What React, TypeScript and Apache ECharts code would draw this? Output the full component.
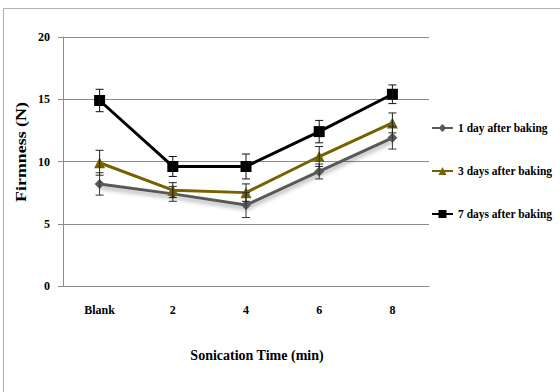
import React, { useEffect, useRef } from "react";
import * as echarts from "echarts";

const categories = ["Blank", "2", "4", "6", "8"];
const oneDay = [8.2, 7.4, 6.5, 9.2, 11.9];
const oneDayErr = [0.9, 0.6, 1.0, 0.6, 0.9];
const threeDays = [9.9, 7.7, 7.5, 10.4, 13.1];
const threeDaysErr = [1.0, 0.6, 0.7, 0.8, 0.8];
const sevenDays = [14.9, 9.6, 9.6, 12.4, 15.4];
const sevenDaysErr = [0.9, 0.8, 1.0, 0.9, 0.75];
const yTicks = [0, 5, 10, 15, 20];

const FONT = "'Liberation Serif', 'Times New Roman', serif";

function errData(vals: number[], errs: number[]) {
  return vals.map((v, i) => [i, v - errs[i], v + errs[i]]);
}

function errSeries(vals: number[], errs: number[], color: string) {
  return {
    type: "custom",
    z: 5,
    silent: true,
    data: errData(vals, errs),
    renderItem: (params: any, api: any) => {
      const x = api.value(0);
      const lo = api.coord([x, api.value(1)]);
      const hi = api.coord([x, api.value(2)]);
      const w = 4;
      const style = { stroke: color, lineWidth: 1 };
      return {
        type: "group",
        children: [
          { type: "line", shape: { x1: lo[0], y1: lo[1], x2: hi[0], y2: hi[1] }, style },
          { type: "line", shape: { x1: lo[0] - w, y1: lo[1], x2: lo[0] + w, y2: lo[1] }, style },
          { type: "line", shape: { x1: hi[0] - w, y1: hi[1], x2: hi[0] + w, y2: hi[1] }, style },
        ],
      };
    },
  };
}

export default function App() {
  const ref = useRef<HTMLDivElement>(null);
  useEffect(() => {
    if (!ref.current) return;
    const chart = echarts.init(ref.current, undefined, { renderer: "svg" });
    chart.setOption({
      animation: false,
      backgroundColor: "#ffffff",
      grid: { left: 63, right: 131, top: 37, bottom: 106 },
      legend: {
        orient: "vertical",
        left: 431,
        top: 122,
        itemGap: 31,
        itemWidth: 21,
        itemHeight: 10,
        padding: 0,
        data: ["1 day after baking", "3 days after baking", "7 days after baking"],
        textStyle: { fontFamily: FONT, fontWeight: "bold", fontSize: 11.5, color: "#000" },
      },
      xAxis: {
        type: "category",
        data: categories,
        boundaryGap: true,
        axisLine: { lineStyle: { color: "#8c8c8c", width: 1 } },
        axisTick: { alignWithLabel: true, length: 5, lineStyle: { color: "#8c8c8c" } },
        axisLabel: { margin: 18, fontFamily: FONT, fontWeight: "bold", fontSize: 12, color: "#000" },
        splitLine: { show: false },
      },
      yAxis: {
        type: "value",
        min: 0,
        max: 20,
        interval: 5,
        axisLine: { show: true, lineStyle: { color: "#8c8c8c", width: 1 } },
        axisTick: { show: true, length: 5, lineStyle: { color: "#8c8c8c" } },
        axisLabel: {
          margin: 13,
          fontFamily: FONT,
          fontWeight: "bold",
          fontSize: 12,
          color: "#000",
          formatter: (v: number) => (yTicks.includes(v) ? String(v) : ""),
        },
        splitLine: { show: true, lineStyle: { color: "#8c8c8c", width: 1 } },
      },
      graphic: [
        { type: "line", shape: { x1: 3.5, y1: 8.5, x2: 560, y2: 8.5 }, style: { stroke: "#b0b0b0", lineWidth: 1 } },
        { type: "line", shape: { x1: 3.5, y1: 8.5, x2: 3.5, y2: 392 }, style: { stroke: "#b0b0b0", lineWidth: 1 } },
        {
          type: "text",
          x: 21,
          y: 152,
          rotation: Math.PI / 2,
          scaleX: 1.28,
          style: {
            text: "Firmness (N)",
            fontFamily: FONT,
            fontWeight: "bold",
            fontSize: 14,
            fill: "#000",
            align: "center",
            verticalAlign: "middle",
          },
        },
        {
          type: "text",
          x: 257,
          y: 355,
          style: {
            text: "Sonication Time (min)",
            fontFamily: FONT,
            fontWeight: "bold",
            fontSize: 14,
            fill: "#000",
            align: "center",
            verticalAlign: "middle",
          },
        },
      ],
      series: [
        {
          name: "1 day after baking",
          type: "line",
          data: oneDay,
          symbol: "diamond",
          symbolSize: 10,
          itemStyle: { color: "#595959" },
          lineStyle: {
            color: "#595959",
            width: 3,
            shadowColor: "rgba(0,0,0,0.35)",
            shadowBlur: 4,
            shadowOffsetY: 3,
          },
          z: 2,
        },
        {
          name: "3 days after baking",
          type: "line",
          data: threeDays,
          symbol: "triangle",
          symbolSize: 11,
          itemStyle: { color: "#756200" },
          lineStyle: { color: "#756200", width: 3 },
          z: 3,
        },
        {
          name: "7 days after baking",
          type: "line",
          data: sevenDays,
          symbol: "rect",
          symbolSize: 11,
          itemStyle: { color: "#000000" },
          lineStyle: { color: "#000000", width: 3 },
          z: 4,
        },
        errSeries(oneDay, oneDayErr, "#333333"),
        errSeries(threeDays, threeDaysErr, "#222222"),
        errSeries(sevenDays, sevenDaysErr, "#111111"),
      ],
    });
    return () => chart.dispose();
  }, []);
  return (
    <div
      ref={ref}
      style={{ position: "absolute", left: 0, top: 0, width: 560, height: 392 }}
    />
  );
}
